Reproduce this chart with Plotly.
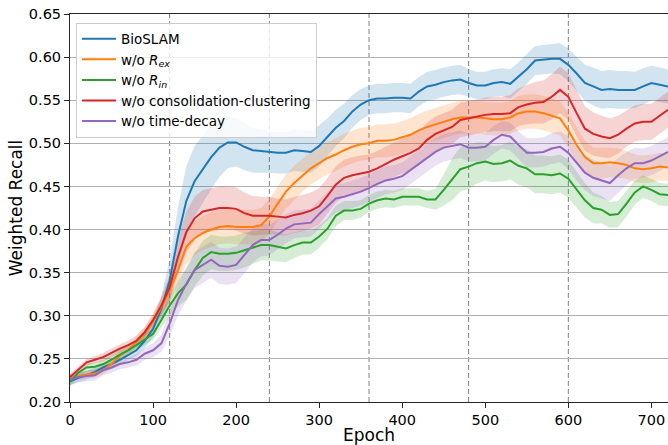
import numpy as np
import plotly.graph_objects as go

# Evaluation epochs (every 10 epochs)
epochs = list(range(0, 721, 10))

# Mean weighted recall per method
bioslam = [0.224, 0.228, 0.231, 0.235, 0.240, 0.244, 0.249, 0.255, 0.260, 0.271,
           0.285, 0.308, 0.341, 0.392, 0.433, 0.456, 0.470, 0.484, 0.495, 0.501,
           0.501, 0.496, 0.492, 0.491, 0.490, 0.489, 0.489, 0.492, 0.491, 0.490,
           0.497, 0.507, 0.518, 0.526, 0.537, 0.545, 0.550, 0.552, 0.552, 0.553,
           0.553, 0.552, 0.560, 0.566, 0.568, 0.571, 0.573, 0.574, 0.570, 0.567,
           0.567, 0.570, 0.571, 0.569, 0.577, 0.586, 0.596, 0.597, 0.598, 0.598,
           0.591, 0.581, 0.570, 0.566, 0.562, 0.563, 0.562, 0.562, 0.562, 0.566,
           0.570, 0.568, 0.566]
wo_rex = [0.228, 0.230, 0.232, 0.233, 0.237, 0.244, 0.254, 0.260, 0.269, 0.279,
          0.293, 0.310, 0.329, 0.353, 0.380, 0.390, 0.396, 0.400, 0.403, 0.404,
          0.403, 0.403, 0.403, 0.405, 0.415, 0.430, 0.444, 0.454, 0.463, 0.471,
          0.477, 0.483, 0.487, 0.492, 0.496, 0.499, 0.500, 0.503, 0.503, 0.504,
          0.507, 0.510, 0.515, 0.519, 0.522, 0.525, 0.528, 0.530, 0.530, 0.530,
          0.529, 0.528, 0.528, 0.530, 0.535, 0.537, 0.537, 0.535, 0.532, 0.529,
          0.515, 0.498, 0.484, 0.477, 0.477, 0.478, 0.477, 0.475, 0.471, 0.470,
          0.471, 0.473, 0.472]
wo_rin = [0.223, 0.234, 0.240, 0.241, 0.244, 0.249, 0.255, 0.260, 0.266, 0.272,
          0.279, 0.295, 0.312, 0.326, 0.336, 0.353, 0.367, 0.374, 0.372, 0.372,
          0.373, 0.376, 0.379, 0.382, 0.382, 0.380, 0.378, 0.382, 0.385, 0.385,
          0.392, 0.401, 0.416, 0.422, 0.422, 0.424, 0.430, 0.434, 0.436, 0.435,
          0.438, 0.438, 0.438, 0.435, 0.435, 0.446, 0.458, 0.470, 0.473, 0.477,
          0.479, 0.476, 0.477, 0.480, 0.474, 0.471, 0.464, 0.464, 0.463, 0.465,
          0.459, 0.446, 0.434, 0.425, 0.423, 0.417, 0.418, 0.430, 0.443, 0.450,
          0.446, 0.441, 0.440]
wo_cluster = [0.229, 0.237, 0.246, 0.249, 0.252, 0.257, 0.262, 0.266, 0.271, 0.281,
              0.295, 0.312, 0.333, 0.368, 0.397, 0.413, 0.421, 0.423, 0.425, 0.425,
              0.424, 0.419, 0.416, 0.416, 0.416, 0.415, 0.414, 0.417, 0.419, 0.422,
              0.427, 0.439, 0.452, 0.460, 0.463, 0.465, 0.467, 0.471, 0.476, 0.481,
              0.485, 0.489, 0.494, 0.504, 0.511, 0.515, 0.519, 0.527, 0.529, 0.531,
              0.533, 0.534, 0.534, 0.535, 0.542, 0.545, 0.547, 0.548, 0.554, 0.562,
              0.554, 0.535, 0.517, 0.511, 0.508, 0.506, 0.510, 0.517, 0.523, 0.525,
              0.525, 0.532, 0.539]
wo_decay = [0.226, 0.229, 0.230, 0.231, 0.237, 0.240, 0.244, 0.246, 0.249, 0.256,
            0.260, 0.268, 0.291, 0.318, 0.337, 0.353, 0.359, 0.365, 0.358, 0.357,
            0.359, 0.370, 0.382, 0.388, 0.388, 0.394, 0.401, 0.406, 0.407, 0.408,
            0.418, 0.427, 0.436, 0.438, 0.441, 0.444, 0.448, 0.453, 0.457, 0.459,
            0.462, 0.469, 0.475, 0.483, 0.490, 0.495, 0.497, 0.499, 0.495, 0.495,
            0.496, 0.504, 0.510, 0.508, 0.498, 0.489, 0.489, 0.490, 0.494, 0.496,
            0.489, 0.477, 0.466, 0.460, 0.457, 0.454, 0.463, 0.471, 0.477, 0.477,
            0.480, 0.485, 0.490]

# Standard deviation across runs
bioslam_std = [0.005, 0.005, 0.005, 0.005, 0.005, 0.006, 0.006, 0.006, 0.007, 0.008,
               0.010, 0.015, 0.024, 0.034, 0.040, 0.041, 0.039, 0.037, 0.034, 0.030,
               0.028, 0.027, 0.026, 0.025, 0.024, 0.024, 0.024, 0.024, 0.024, 0.024,
               0.024, 0.022, 0.021, 0.020, 0.019, 0.018, 0.017, 0.017, 0.017, 0.017,
               0.017, 0.017, 0.017, 0.017, 0.017, 0.017, 0.017, 0.017, 0.016, 0.016,
               0.016, 0.016, 0.016, 0.017, 0.017, 0.017, 0.017, 0.017, 0.017, 0.018,
               0.019, 0.020, 0.021, 0.022, 0.022, 0.022, 0.022, 0.022, 0.021, 0.021,
               0.020, 0.020, 0.020]
wo_rex_std = [0.004, 0.004, 0.004, 0.005, 0.005, 0.005, 0.006, 0.006, 0.006, 0.007,
              0.008, 0.010, 0.014, 0.018, 0.020, 0.020, 0.020, 0.020, 0.020, 0.020,
              0.020, 0.020, 0.020, 0.020, 0.020, 0.020, 0.020, 0.020, 0.019, 0.019,
              0.019, 0.019, 0.019, 0.019, 0.019, 0.019, 0.019, 0.019, 0.019, 0.019,
              0.019, 0.019, 0.019, 0.019, 0.019, 0.019, 0.019, 0.019, 0.019, 0.019,
              0.019, 0.019, 0.019, 0.019, 0.020, 0.020, 0.020, 0.020, 0.020, 0.020,
              0.020, 0.020, 0.019, 0.018, 0.018, 0.017, 0.017, 0.016, 0.016, 0.016,
              0.016, 0.016, 0.016]
wo_rin_std = [0.005, 0.005, 0.005, 0.005, 0.005, 0.006, 0.006, 0.006, 0.006, 0.006,
              0.007, 0.009, 0.012, 0.015, 0.018, 0.019, 0.020, 0.020, 0.020, 0.020,
              0.020, 0.020, 0.019, 0.018, 0.018, 0.017, 0.016, 0.015, 0.014, 0.014,
              0.013, 0.012, 0.012, 0.011, 0.011, 0.010, 0.010, 0.010, 0.010, 0.010,
              0.010, 0.010, 0.010, 0.010, 0.012, 0.018, 0.024, 0.026, 0.026, 0.024,
              0.022, 0.021, 0.021, 0.022, 0.022, 0.022, 0.022, 0.022, 0.022, 0.022,
              0.022, 0.021, 0.020, 0.018, 0.016, 0.015, 0.015, 0.015, 0.014, 0.013,
              0.013, 0.013, 0.013]
wo_cluster_std = [0.004, 0.004, 0.004, 0.004, 0.005, 0.005, 0.005, 0.005, 0.006, 0.006,
                  0.008, 0.010, 0.015, 0.020, 0.024, 0.025, 0.025, 0.025, 0.025, 0.025,
                  0.025, 0.024, 0.023, 0.022, 0.022, 0.021, 0.021, 0.021, 0.021, 0.021,
                  0.021, 0.021, 0.021, 0.021, 0.021, 0.021, 0.020, 0.020, 0.020, 0.020,
                  0.020, 0.020, 0.020, 0.020, 0.020, 0.020, 0.020, 0.020, 0.020, 0.020,
                  0.020, 0.020, 0.020, 0.021, 0.022, 0.023, 0.024, 0.025, 0.026, 0.027,
                  0.027, 0.027, 0.026, 0.025, 0.024, 0.023, 0.022, 0.021, 0.021, 0.021,
                  0.021, 0.021, 0.021]
wo_decay_std = [0.006, 0.006, 0.006, 0.006, 0.006, 0.006, 0.006, 0.006, 0.007, 0.007,
                0.008, 0.010, 0.014, 0.018, 0.020, 0.021, 0.021, 0.021, 0.021, 0.021,
                0.021, 0.021, 0.020, 0.019, 0.018, 0.017, 0.017, 0.016, 0.016, 0.016,
                0.016, 0.016, 0.016, 0.016, 0.016, 0.016, 0.016, 0.016, 0.016, 0.016,
                0.016, 0.016, 0.016, 0.016, 0.016, 0.016, 0.016, 0.016, 0.016, 0.016,
                0.016, 0.016, 0.016, 0.016, 0.016, 0.017, 0.017, 0.017, 0.018, 0.018,
                0.019, 0.020, 0.020, 0.021, 0.021, 0.021, 0.020, 0.019, 0.018, 0.017,
                0.017, 0.017, 0.017]

# Task-switch boundaries
switch_epochs = [120, 240, 360, 480, 600]

series = [
    ("BioSLAM", bioslam, bioslam_std, (31, 119, 180)),
    ("w/o <i>R</i><sub><i>ex</i></sub>", wo_rex, wo_rex_std, (255, 127, 14)),
    ("w/o <i>R</i><sub><i>in</i></sub>", wo_rin, wo_rin_std, (44, 160, 44)),
    ("w/o consolidation-clustering", wo_cluster, wo_cluster_std, (214, 39, 40)),
    ("w/o time-decay", wo_decay, wo_decay_std, (148, 103, 189)),
]

FONT = "DejaVu Sans"
fig = go.Figure()

x = np.array(epochs)
# shaded +/- std bands
for name, mean, std, rgb in series:
    m = np.array(mean)
    s = np.array(std)
    fig.add_trace(go.Scatter(
        x=np.concatenate([x, x[::-1]]),
        y=np.concatenate([m + s, (m - s)[::-1]]),
        fill="toself",
        fillcolor="rgba(%d,%d,%d,0.2)" % rgb,
        line=dict(width=0),
        hoverinfo="skip",
        showlegend=False,
    ))

# mean curves
for name, mean, std, rgb in series:
    fig.add_trace(go.Scatter(
        x=epochs, y=mean, mode="lines", name=name,
        line=dict(color="rgb(%d,%d,%d)" % rgb, width=2),
    ))

for e in switch_epochs:
    fig.add_shape(type="line", xref="x", yref="paper", x0=e, x1=e, y0=0, y1=1,
                  line=dict(color="#808080", width=1, dash="5px,3px"), layer="below")

fig.update_layout(
    width=668, height=445,
    margin=dict(l=70, r=0, t=14, b=43),
    plot_bgcolor="white", paper_bgcolor="white",
    font=dict(family=FONT, color="black"),
    legend=dict(
        x=0.01, y=0.978, xanchor="left", yanchor="top",
        bgcolor="rgba(255,255,255,0.8)", bordercolor="#cccccc", borderwidth=1,
        font=dict(family=FONT, size=13.5), itemwidth=34,
    ),
)
fig.update_xaxes(
    range=[0, 720], tickvals=[0, 100, 200, 300, 400, 500, 600, 700],
    ticks="outside", ticklen=5, tickcolor="#262626",
    showline=True, linecolor="#262626", linewidth=1, mirror=True,
    showgrid=False, zeroline=False,
    tickfont=dict(family=FONT, size=14.5),
    title=dict(text="Epoch", font=dict(family=FONT, size=17), standoff=2),
)
fig.update_yaxes(
    range=[0.2, 0.65], dtick=0.05, tick0=0.2, tickformat=".2f",
    ticks="outside", ticklen=5, tickcolor="#262626",
    showline=True, linecolor="#262626", linewidth=1, mirror=True,
    showgrid=True, gridcolor="#b0b0b0", gridwidth=1, zeroline=False,
    tickfont=dict(family=FONT, size=14.5),
    title=dict(text="Weighted Recall", font=dict(family=FONT, size=17), standoff=1),
)

fig.write_html("out.html")
